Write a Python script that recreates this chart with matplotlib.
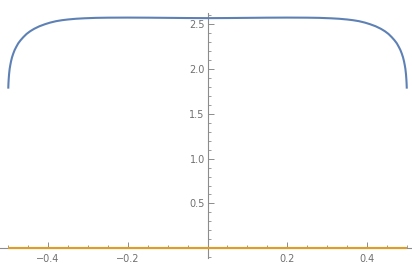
import matplotlib.pyplot as plt
from matplotlib.ticker import MultipleLocator

# blue curve
x_blue = [-0.5, -0.4995, -0.499, -0.498, -0.4965, -0.495, -0.493, -0.4905, -0.4875,
          -0.484, -0.48, -0.475, -0.469, -0.462, -0.454, -0.445, -0.435, -0.422,
          -0.408, -0.395, -0.38, -0.365, -0.35, -0.33, -0.31, -0.28,
          -0.25, -0.2, -0.15, -0.1, -0.05, 0.0,
          0.05, 0.1, 0.15, 0.2, 0.25,
          0.28, 0.31, 0.33, 0.35, 0.365, 0.38, 0.395, 0.408, 0.422, 0.435,
          0.445, 0.454, 0.462, 0.469, 0.475, 0.48, 0.484, 0.4875, 0.4905,
          0.493, 0.495, 0.4965, 0.498, 0.499, 0.4995, 0.5]
y_blue = [1.78, 1.84, 1.88, 1.94, 2.0, 2.04, 2.085, 2.13, 2.17,
          2.21, 2.245, 2.285, 2.32, 2.355, 2.39, 2.42, 2.447, 2.475,
          2.498, 2.516, 2.532, 2.543, 2.551, 2.559, 2.564, 2.569,
          2.571, 2.572, 2.571, 2.569, 2.567, 2.566,
          2.567, 2.569, 2.571, 2.572, 2.571,
          2.569, 2.564, 2.559, 2.551, 2.543, 2.532, 2.516, 2.498, 2.475, 2.447,
          2.42, 2.39, 2.355, 2.32, 2.285, 2.245, 2.21, 2.17, 2.13,
          2.085, 2.04, 2.0, 1.94, 1.88, 1.84, 1.78]

# orange line
x_orange = [-0.5, 0.5]
y_orange = [0.0, 0.0]

x_ticks = [-0.4, -0.2, 0.2, 0.4]
x_labels = ['\u22120.4', '\u22120.2', '0.2', '0.4']
y_ticks = [0.5, 1.0, 1.5, 2.0, 2.5]
y_labels = ['0.5', '1.0', '1.5', '2.0', '2.5']

fig = plt.figure(figsize=(4.12, 2.70), dpi=100)
ax = fig.add_axes([0.0007, 0.0444, 1.006, 0.9074])

ax.plot(x_blue, y_blue, color='#5E81B5', lw=1.5, solid_capstyle='butt',
        solid_joinstyle='round')
ax.plot(x_orange, y_orange, color='#E19C24', lw=1.5, solid_capstyle='butt')

ax.set_xlim(-0.52, 0.52)
ax.set_ylim(-0.108, 2.623)

for s in ['top', 'right']:
    ax.spines[s].set_visible(False)
ax.spines['left'].set_position(('data', 0))
ax.spines['bottom'].set_position(('data', 0))
for s in ['left', 'bottom']:
    ax.spines[s].set_color('#8c8c8c')
    ax.spines[s].set_linewidth(0.8)
    ax.spines[s].set_zorder(0)

ax.set_xticks(x_ticks)
ax.set_xticklabels(x_labels)
ax.set_yticks(y_ticks)
ax.set_yticklabels(y_labels)
ax.xaxis.set_minor_locator(MultipleLocator(0.05))
ax.yaxis.set_minor_locator(MultipleLocator(0.1))

ax.tick_params(which='major', direction='in', length=4, width=0.7, color='#8c8c8c',
               labelsize=7, labelcolor='#707070')
ax.tick_params(which='minor', direction='in', length=2.2, width=0.6, color='#8c8c8c')
ax.tick_params(axis='x', which='major', pad=4)
ax.tick_params(axis='y', which='major', pad=2)

fig.savefig('out.png', dpi=100)
